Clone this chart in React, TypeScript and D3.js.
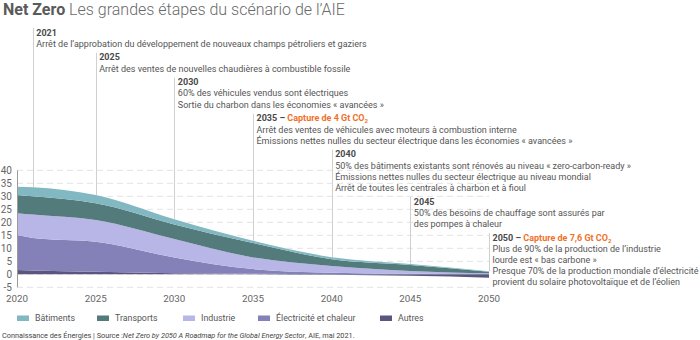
import React from "react";
import * as d3 from "d3";

// ---- Data (Gt CO2) ----
const years = [2020, 2021, 2025, 2030, 2035, 2040, 2045, 2050];
const autres = [1.7, 1.5, 1.0, 0.4, 0.2, -0.2, -0.6, -1.3];
const electricite = [13.4, 12.5, 11.5, 6.1, 1.8, 0.6, 0.2, 0.1];
const industrie = [8.4, 9.0, 8.4, 7.1, 4.5, 2.6, 1.1, 0.3];
const transports = [7.0, 7.0, 6.4, 5.6, 5.5, 2.6, 2.3, 0.6];
const batiments = [3.2, 3.5, 3.2, 2.0, 0.9, 0.8, 0.4, 0.2];

const seriesKeys = ["Autres", "Électricité et chaleur", "Industrie", "Transports", "Bâtiments"];
const seriesValues = [autres, electricite, industrie, transports, batiments];
const legendKeys = ["Bâtiments", "Transports", "Industrie", "Électricité et chaleur", "Autres"];

const yTicks = [-5, 0, 5, 10, 15, 20, 25, 30, 35, 40];
const xTicks = [2020, 2025, 2030, 2035, 2040, 2045, 2050];

const milestoneYears = [2021, 2025, 2030, 2035, 2040, 2045, 2050];
const milestoneCaptures = ["", "", "", "4", "", "", "7,6"];
const milestoneTexts = [
  ["Arrêt de l’approbation du développement de nouveaux champs pétroliers et gaziers"],
  ["Arrêt des ventes de nouvelles chaudières à combustible fossile"],
  ["60% des véhicules vendus sont électriques", "Sortie du charbon dans les économies « avancées »"],
  ["Arrêt des ventes de véhicules avec moteurs à combustion interne", "Émissions nettes nulles du secteur électrique dans les économies « avancées »"],
  ["50% des bâtiments existants sont rénovés au niveau « zero-carbon-ready »", "Émissions nettes nulles du secteur électrique au niveau mondial", "Arrêt de toutes les centrales à charbon et à fioul"],
  ["50% des besoins de chauffage sont assurés par", "des pompes à chaleur"],
  ["Plus de 90% de la production de l’industrie", "lourde est « bas carbone »", "Presque 70% de la production mondiale d’électricité", "provient du solaire photovoltaïque et de l’éolien"],
];

// ---- Styles ----
const COLORS: Record<string, string> = {
  "Bâtiments": "#82b8c1",
  "Transports": "#547b7c",
  "Industrie": "#b8b5e7",
  "Électricité et chaleur": "#8480b8",
  "Autres": "#5b5680",
};
const FONT = "Roboto, 'Noto Sans', sans-serif";
const W = 700;
const H = 340;
const M = { left: 17, right: 489, top: 170.3, bottom: 287.3 };

export default function App() {
  const x = d3.scaleLinear().domain([2020, 2050]).range([M.left, M.right]);
  const y = d3.scaleLinear().domain([-5, 40]).range([M.bottom, M.top]);

  const rows = years.map((yr, i) => {
    const r: any = { year: yr };
    seriesKeys.forEach((k, j) => (r[k] = seriesValues[j][i]));
    return r;
  });
  const stack = d3.stack<any>().keys(seriesKeys).offset(d3.stackOffsetDiverging);
  const layers = stack(rows);
  const area = d3
    .area<any>()
    .x((d) => x(d.data.year))
    .y0((d) => y(d[0]))
    .y1((d) => y(d[1]))
    .curve(d3.curveMonotoneX);

  const topAt = (yr: number) => {
    const i = years.indexOf(yr);
    return seriesValues.reduce((s, arr) => s + Math.max(0, arr[i]), 0);
  };

  // milestone block layout
  const lineH = 11.15;
  const gap = 2.6;
  let cursor = 32.3;
  const blocks = milestoneYears.map((yr, i) => {
    const start = cursor;
    cursor += (milestoneTexts[i].length + 1) * lineH + gap;
    return { yr, start, i };
  });

  const legendX = [17, 97, 183, 258, 380];

  return (
    <svg width={W} height={H} style={{ position: "absolute", left: 0, top: 0 }} fontFamily={FONT}>
      <rect width={W} height={H} fill="#fff" />
      {/* title */}
      <text x={3} y={14.5} fontSize={16} fill="#5a5a5a">
        <tspan fontWeight={700}>Net Zero</tspan>
        <tspan fontWeight={300} fill="#6a6a6a"> Les grandes étapes du scénario de l’AIE</tspan>
      </text>

      {/* grid */}
      {yTicks.map((t) => (
        <line key={t} x1={M.left} x2={M.right} y1={y(t)} y2={y(t)} stroke="#e3e3e3" strokeDasharray="6,4" />
      ))}

      {/* milestone lines */}
      {blocks.map((b) => (
        <line
          key={"ml" + b.yr}
          x1={Math.round(x(b.yr)) + 0.5}
          x2={Math.round(x(b.yr)) + 0.5}
          y1={b.start - 4.5}
          y2={y(topAt(b.yr))}
          stroke="#d0d0d0"
        />
      ))}

      {/* areas */}
      {layers.map((l) => (
        <path key={l.key} d={area(l) || ""} fill={COLORS[l.key]} />
      ))}

      {/* y axis */}
      <line x1={M.left + 0.5} x2={M.left + 0.5} y1={y(40)} y2={y(-5)} stroke="#9a9a9a" />
      {yTicks.map((t) => (
        <text key={"yt" + t} x={12} y={y(t) + 3.4} fontSize={10} fill="#666" textAnchor="end">
          {t}
        </text>
      ))}
      {xTicks.map((t) => (
        <text key={"xt" + t} x={x(t)} y={301.8} fontSize={9.8} fill="#666" textAnchor="middle">
          {t}
        </text>
      ))}

      {/* milestone texts */}
      {blocks.map((b) => {
        const tx = x(b.yr) + 3.5;
        const cap = milestoneCaptures[b.i];
        return (
          <g key={"mt" + b.yr} fontSize={9}>
            <text x={tx} y={b.start + 3.2} fontWeight={700} fill="#4a4a4a">
              {b.yr}
              {cap ? (
                <>
                  <tspan> – </tspan>
                  <tspan fill="#f0712a">{`Capture de ${cap} Gt CO`}</tspan>
                  <tspan fill="#f0712a" fontSize={6} dy={2}>2</tspan>
                </>
              ) : null}
            </text>
            {milestoneTexts[b.i].map((line, k) => (
              <text key={k} x={tx} y={b.start + 3.2 + (k + 1) * lineH} fill="#555">
                {line}
              </text>
            ))}
          </g>
        );
      })}

      {/* legend */}
      {legendKeys.map((k, i) => (
        <g key={"lg" + k}>
          <rect x={legendX[i]} y={315.5} width={12} height={5.5} fill={COLORS[k]} />
          <text x={legendX[i] + 18} y={321.3} fontSize={8.8} fill="#555">
            {k}
          </text>
        </g>
      ))}

      {/* footnote */}
      <text x={2} y={338} fontSize={7.3} fill="#444">
        Connaissance des Énergies | Source : 
        <tspan fontStyle="italic">Net Zero by 2050 A Roadmap for the Global Energy Sector</tspan>
        , AIE, mai 2021.
      </text>
    </svg>
  );
}
